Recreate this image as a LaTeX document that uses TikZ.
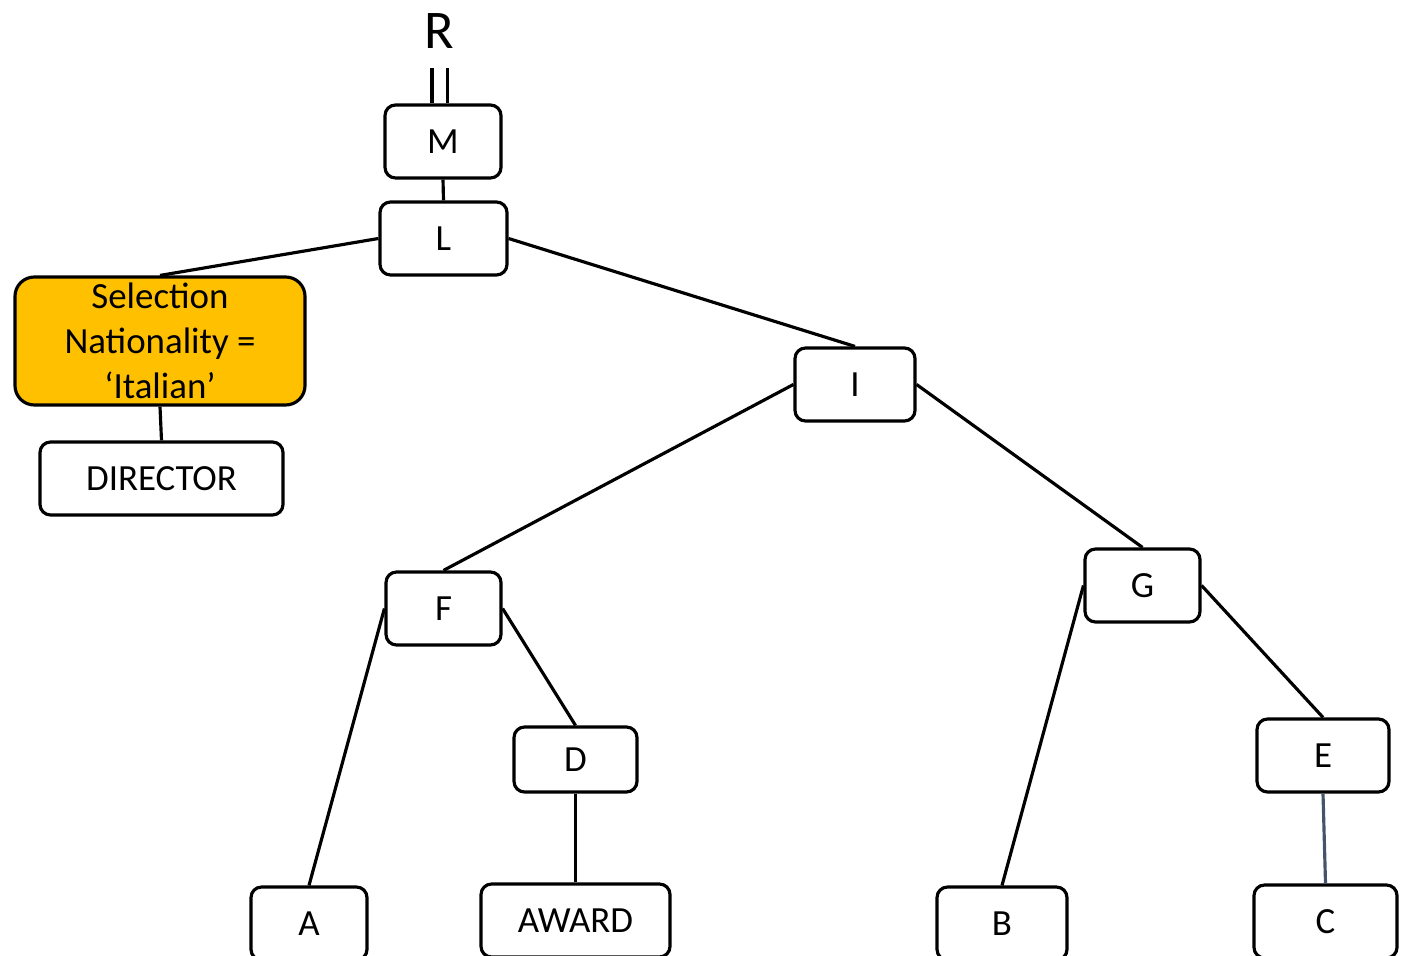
\documentclass[tikz,border=0pt]{standalone}
\usepackage{fontspec}
\setmainfont{Carlito}
\usetikzlibrary{positioning, calc}
\definecolor{selgold}{HTML}{FFC000}
\definecolor{slate}{HTML}{44546A}

\begin{document}
\begin{tikzpicture}[
  box/.style={draw=black, line width=1.8pt, rounded corners=6pt, fill=white,
    minimum width=#1, minimum height=1.46cm, inner sep=2pt,
    font=\fontsize{21}{25.5}\selectfont},
  box/.default=2.3cm,
  sel/.style={draw=black, line width=1.8pt, rounded corners=11pt, fill=selgold,
    minimum width=5.8cm, minimum height=2.56cm, align=center, inner sep=2pt,
    font=\fontsize{21}{25.6}\selectfont},
  edge/.style={line width=1.8pt, black},
  dbl/.style={double, double distance=0.24cm, line width=1.8pt},
]

% Frame
\useasboundingbox (0,0) rectangle (28.18,-19.12);
\clip (0,0) rectangle (28.18,-19.12);

% === Top: result and projection ===
\node[font=\fontsize{31}{36}\selectfont] (R) at (8.78,-0.62) {R};
\node[box=2.32cm] (M) at (8.86,-2.83) {M};
\node[box=2.54cm] (L) at (8.87,-4.77) {L};
\coordinate (rtop) at (8.79,-1.36);
\draw[dbl] (rtop) -- (rtop |- M.north);
\draw[edge] (M.south) -- (L.north);

% === Left branch: selection on DIRECTOR ===
\node[sel] (sel) at (3.20,-6.82) {Selection\\Nationality =\\‘Italian’};
\node[box=4.86cm] (dir) at (3.23,-9.57) {DIRECTOR};
\draw[edge] (L.west) -- (sel.north);
\draw[edge] (sel.south) -- (dir.north);

% === Right branch: joins ===
\node[box=2.40cm] (I) at (17.10,-7.69) {I};
\node[box=2.30cm] (F) at (8.87,-12.17) {F};
\node[box=2.30cm] (G) at (22.85,-11.71) {G};
\node[box=2.46cm, minimum height=1.30cm] (D) at (11.51,-15.19) {D};
\node[box=2.64cm] (E) at (26.46,-15.11) {E};
\draw[edge] (L.east) -- (I.north);
\draw[edge] (I.west) -- (F.north);
\draw[edge] (I.east) -- (G.north);
\draw[edge] (F.east) -- (D.north);
\draw[edge] (G.east) -- (E.north);

% === Bottom: leaves ===
\node[box=2.32cm] (A) at (6.18,-18.47) {A};
\node[box=3.78cm] (award) at (11.51,-18.41) {AWARD};
\node[box=2.60cm] (B) at (20.04,-18.47) {B};
\node[box=2.86cm] (C) at (26.51,-18.43) {C};
\draw[edge] (F.west) -- (A.north);
\draw[edge] (D.south) -- (award.north);
\draw[edge] (G.west) -- (B.north);
\draw[edge, slate] (E.south) -- (C.north);

\end{tikzpicture}
\end{document}
